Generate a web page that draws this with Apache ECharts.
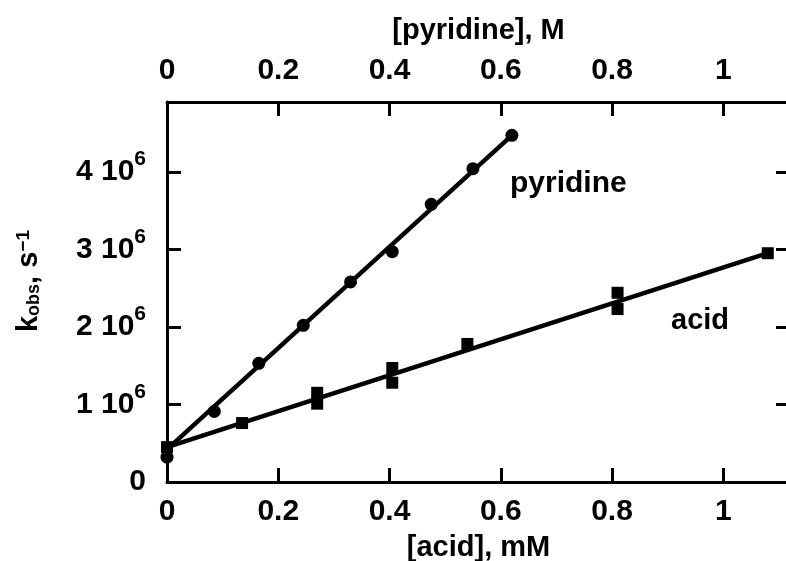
<!DOCTYPE html>
<html>
<head>
<meta charset="utf-8">
<script src="https://cdn.jsdelivr.net/npm/echarts@6/dist/echarts.min.js"></script>
<style>
  html, body { margin: 0; padding: 0; overflow: hidden; background: #fff; }
  #chart { width: 800px; height: 561px; }
</style>
</head>
<body>
<div id="chart"></div>
<script>
// Observed rate constants vs. pyridine (M) and acid (mM) concentration
const pyridineConc = [0, 0.085, 0.165, 0.245, 0.33, 0.405, 0.475, 0.55, 0.62];
const pyridineRate = [0.32e6, 0.91e6, 1.53e6, 2.02e6, 2.58e6, 2.97e6, 3.58e6, 4.04e6, 4.47e6];
const acidConc = [0, 0.135, 0.27, 0.27, 0.405, 0.405, 0.54, 0.81, 0.81, 1.08];
const acidRate = [0.45e6, 0.76e6, 1.01e6, 1.15e6, 1.28e6, 1.47e6, 1.78e6, 2.23e6, 2.44e6, 2.95e6];

// Straight-line fits, given by their end points
const pyridineFitConc = [0, 0.62];
const pyridineFitRate = [0.42e6, 4.47e6];
const acidFitConc = [0, 1.08];
const acidFitRate = [0.45e6, 2.95e6];

// Tick labels
const concTicks = [0, 0.2, 0.4, 0.6, 0.8, 1];
const concTickLabels = ['0', '0.2', '0.4', '0.6', '0.8', '1'];
const rateTicks = [0, 1e6, 2e6, 3e6, 4e6];
const rateTickLabels = ['0', '1 10{sup|6}', '2 10{sup|6}', '3 10{sup|6}', '4 10{sup|6}'];

const FONT = '"Liberation Sans", Arial, Helvetica, sans-serif';
const INK = '#000';

function pairs(xs, ys) { return xs.map((x, i) => [x, ys[i]]); }
function lookup(ticks, labels, v) {
  const i = ticks.findIndex(t => Math.abs(t - v) < 1e-9 * Math.max(1, Math.abs(t)));
  return i < 0 ? '' : labels[i];
}

const textBase = { color: INK, fontFamily: FONT, fontWeight: 'bold' };
const lineStyle = { color: INK, width: 3 };

function concAxis(position, name, nameGap, margin) {
  return {
    type: 'value', position, min: 0, max: 1.12, interval: 0.2,
    name, nameLocation: 'middle', nameGap,
    nameTextStyle: Object.assign({ fontSize: 29 }, textBase),
    axisLine: { show: true, onZero: false, lineStyle },
    axisTick: { show: true, inside: true, length: 14, lineStyle },
    axisLabel: Object.assign({ margin, fontSize: 30, formatter: v => lookup(concTicks, concTickLabels, v) }, textBase),
    splitLine: { show: false }
  };
}

function rateAxis(position, withLabels) {
  return {
    type: 'value', position, min: 0, max: 4.9e6, interval: 1e6,
    axisLine: { show: true, onZero: false, lineStyle },
    axisTick: { show: true, inside: true, length: 14, lineStyle },
    axisLabel: Object.assign({
      show: withLabels, margin: 21, fontSize: 30, lineHeight: 46,
      formatter: v => lookup(rateTicks, rateTickLabels, v),
      rich: { sup: Object.assign({ fontSize: 21, lineHeight: 21, verticalAlign: 'top' }, textBase) }
    }, textBase),
    splitLine: { show: false }
  };
}

const yLeft = rateAxis('left', true);
yLeft.name = 'k{sub|obs}, s{sup|−1}';
yLeft.nameLocation = 'middle';
yLeft.nameRotate = 90;
yLeft.nameGap = 124;
yLeft.nameTextStyle = Object.assign({
  fontSize: 29, padding: [0, 0, 0, 22],
  rich: {
    sub: Object.assign({ fontSize: 18, lineHeight: 18, verticalAlign: 'bottom' }, textBase),
    sup: Object.assign({ fontSize: 19, lineHeight: 19, verticalAlign: 'top' }, textBase)
  }
}, textBase);

const chart = echarts.init(document.getElementById('chart'), null, { renderer: 'canvas' });
chart.setOption({
  backgroundColor: '#fff',
  animation: false,
  grid: { left: 167, top: 102, right: 10, bottom: 79, containLabel: false, outerBoundsMode: 'none' },
  xAxis: [
    concAxis('bottom', '[acid], mM', 51, 15),
    concAxis('top', '[pyridine], M', 57, 16)
  ],
  yAxis: [yLeft, rateAxis('right', false)],
  series: [
    {
      name: 'pyridine fit', type: 'line', xAxisIndex: 1, yAxisIndex: 0,
      data: pairs(pyridineFitConc, pyridineFitRate), showSymbol: false,
      lineStyle: { color: INK, width: 4.5 }, silent: true, z: 2
    },
    {
      name: 'acid fit', type: 'line', xAxisIndex: 0, yAxisIndex: 0,
      data: pairs(acidFitConc, acidFitRate), showSymbol: false,
      lineStyle: { color: INK, width: 4.5 }, silent: true, z: 2
    },
    {
      name: 'pyridine', type: 'scatter', xAxisIndex: 1, yAxisIndex: 0,
      data: pairs(pyridineConc, pyridineRate), symbol: 'circle', symbolSize: 13,
      itemStyle: { color: INK, opacity: 1 }, z: 3
    },
    {
      name: 'acid', type: 'scatter', xAxisIndex: 0, yAxisIndex: 0,
      data: pairs(acidConc, acidRate), symbol: 'rect', symbolSize: 12,
      itemStyle: { color: INK, opacity: 1 }, z: 3
    }
  ],
  graphic: [
    { type: 'text', x: 510, y: 184, style: { text: 'pyridine', font: 'bold 30px ' + FONT, fill: INK, textAlign: 'left', textVerticalAlign: 'middle' } },
    { type: 'text', x: 671, y: 321, style: { text: 'acid', font: 'bold 29px ' + FONT, fill: INK, textAlign: 'left', textVerticalAlign: 'middle' } }
  ]
});
</script>
</body>
</html>
